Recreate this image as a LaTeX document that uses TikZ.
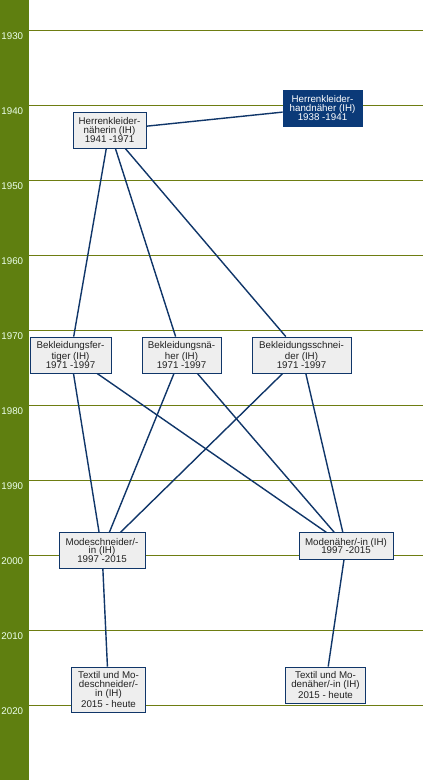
\documentclass[tikz,border=0pt]{standalone}
\usepackage{fontspec}
\setmainfont{Liberation Sans}
\pgfdeclarelayer{gridlayer}
\pgfdeclarelayer{linklayer}
\pgfsetlayers{gridlayer,linklayer,main}
\definecolor{barGreen}{HTML}{5F7F10}
\definecolor{gridOlive}{HTML}{6E7D12}
\definecolor{linkBlue}{HTML}{103669}
\definecolor{boxFill}{HTML}{EEEEEE}
\definecolor{darkBox}{HTML}{0B3A78}
\definecolor{txtGray}{HTML}{222222}
\tikzset{
  job/.style={draw=linkBlue, line width=0.8bp, fill=boxFill, text=txtGray,
    align=center, inner sep=0pt, font=\fontsize{9.8}{9}\selectfont},
  jobdark/.style={job, fill=darkBox, draw=darkBox, text=white},
  link/.style={draw=linkBlue, line width=1.4bp},
  yearlbl/.style={text=white!92!green, font=\fontsize{9.8}{10}\selectfont, inner sep=0pt},
  gridline/.style={draw=gridOlive, line width=0.8bp}
}
\begin{document}
\begin{tikzpicture}[x=1bp,y=-1bp]
\useasboundingbox (0,0) rectangle (423,780);

% nodes
\node[job, minimum width=73bp, minimum height=36bp] (hkn) at (109.5,130) {Herrenkleider-\\näherin (IH)\\1941 -1971};
\node[jobdark, minimum width=79bp, minimum height=36bp] (hh) at (322.5,108) {Herrenkleider-\\handnäher (IH)\\1938 -1941};
\node[job, minimum width=81bp, minimum height=36bp] (bf) at (70.5,355) {Bekleidungsfer-\\tiger (IH)\\1971 -1997};
\node[job, minimum width=79bp, minimum height=36bp] (bn) at (181.5,355) {Bekleidungsnä-\\her (IH)\\1971 -1997};
\node[job, minimum width=99bp, minimum height=36bp] (bs) at (301.5,355) {Bekleidungsschnei-\\der (IH)\\1971 -1997};
\node[job, minimum width=86bp, minimum height=35.5bp] (ms) at (102,550.5) {Modeschneider/-\\in (IH)\\1997 -2015};
\node[job, minimum width=94bp, minimum height=26.5bp] (mn) at (346,546) {Modenäher/-in (IH)\\1997 -2015};
\node[job, minimum width=74.5bp, minimum height=45bp] (tms) at (108.5,689.5) {Textil und Mo-\\deschneider/-\\in (IH)\\2015 - heute};
\node[job, minimum width=80.5bp, minimum height=36bp] (tmn) at (325.5,685) {Textil und Mo-\\denäher/-in (IH)\\2015 - heute};

% year labels
\foreach \yr [count=\i from 0] in {1930,1940,1950,1960,1970,1980,1990,2000,2010,2020} {
  \coordinate (gl\yr) at (29, 30.5+75*\i);
  \coordinate (gr\yr) at (423, 30.5+75*\i);
}

\begin{pgfonlayer}{gridlayer}
\fill[white] (0,0) rectangle (423,780);
\fill[barGreen] (0,0) rectangle (29,780);
\foreach \yr in {1930,1940,1950,1960,1970,1980,1990,2000,2010,2020} {
  \draw[gridline] (gl\yr) -- (gr\yr);
}
\end{pgfonlayer}

\foreach \yr [count=\i from 0] in {1930,1940,1950,1960,1970,1980,1990,2000,2010,2020} {
  \node[yearlbl] (year\yr) at (12.3, 36.5+75*\i) {\yr};
}

\begin{pgfonlayer}{linklayer}
\draw[link] (hh) -- (hkn);
\draw[link] (hkn) -- (bf);
\draw[link] (hkn) -- (bn);
\draw[link] (hkn) -- (bs);
\draw[link] (bf) -- (ms);
\draw[link] (bf) -- (mn);
\draw[link] (bn) -- (ms);
\draw[link] (bn) -- (mn);
\draw[link] (bs) -- (ms);
\draw[link] (bs) -- (mn);
\draw[link] (ms) -- (tms);
\draw[link] (mn) -- (tmn);
\end{pgfonlayer}
\end{tikzpicture}
\end{document}
